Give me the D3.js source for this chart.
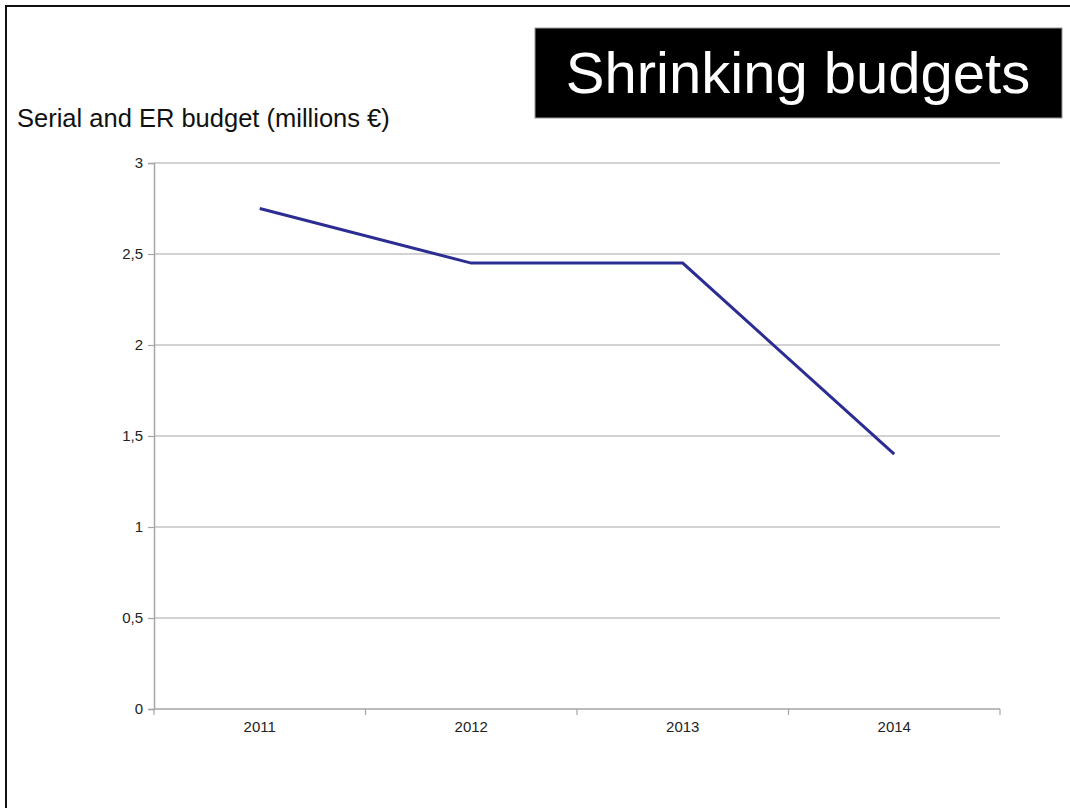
<!DOCTYPE html>
<html>
<head>
<meta charset="utf-8">
<script src="https://cdn.jsdelivr.net/npm/d3@7"></script>
<style>
  html, body { margin: 0; padding: 0; background: #fff; }
  svg { display: block; font-family: "Liberation Sans", Arial, sans-serif; }
</style>
</head>
<body>
<svg id="chart" width="1070" height="808"></svg>
<script>
const years = ["2011", "2012", "2013", "2014"];
const budget = [2.75, 2.45, 2.45, 1.40];
const yTicks = [0, 0.5, 1, 1.5, 2, 2.5, 3];
const titleText = "Shrinking budgets";
const subtitleText = "Serial and ER budget (millions €)";

const svg = d3.select("#chart");
const W = 1070, H = 808;
const margin = { left: 154, right: 70, top: 163, bottom: 99 };
const innerW = W - margin.left - margin.right;
const innerH = H - margin.top - margin.bottom;

// slide frame (top and left edge)
svg.append("line").attr("x1", 5).attr("x2", W).attr("y1", 6).attr("y2", 6)
  .attr("stroke", "#111").attr("stroke-width", 2);
svg.append("line").attr("x1", 6).attr("x2", 6).attr("y1", 5).attr("y2", H)
  .attr("stroke", "#111").attr("stroke-width", 2);

// title box
svg.append("rect").attr("x", 535).attr("y", 28).attr("width", 527).attr("height", 90)
  .attr("fill", "#000").attr("stroke", "#999").attr("stroke-width", 1);
svg.append("text").attr("x", 798).attr("y", 93).attr("text-anchor", "middle")
  .attr("fill", "#fff").attr("font-size", 58).text(titleText);

// subtitle
svg.append("text").attr("x", 17).attr("y", 127).attr("fill", "#111")
  .attr("font-size", 25.5).text(subtitleText);

const g = svg.append("g").attr("transform", `translate(${margin.left},${margin.top})`);

const x = d3.scaleBand().domain(years).range([0, innerW]).paddingInner(0).paddingOuter(0);
const y = d3.scaleLinear().domain([0, 3]).range([innerH, 0]);

// gridlines
g.append("g").selectAll("line").data(yTicks.filter(d => d > 0)).join("line")
  .attr("x1", 0).attr("x2", innerW)
  .attr("y1", d => y(d)).attr("y2", d => y(d))
  .attr("stroke", "#a6a6a6").attr("stroke-width", 1.2);

// y axis
const yAxis = g.append("g")
  .call(d3.axisLeft(y).tickValues(yTicks).tickSize(6).tickPadding(5)
    .tickFormat(d => d3.format("~g")(d).replace(".", ",")));
yAxis.attr("font-size", 15).attr("font-family", "Liberation Sans, Arial, sans-serif");
yAxis.select(".domain").attr("stroke", "#a6a6a6").attr("stroke-width", 1.5);
yAxis.selectAll(".tick line").attr("stroke", "#a6a6a6").attr("stroke-width", 1.2);
yAxis.selectAll(".tick text").attr("fill", "#222");

// x axis with tick marks at category boundaries
const xAxisG = g.append("g").attr("transform", `translate(0,${innerH})`);
xAxisG.append("line").attr("x1", 0).attr("x2", innerW).attr("y1", 0).attr("y2", 0)
  .attr("stroke", "#a6a6a6").attr("stroke-width", 1.5);
const bounds = years.map(d => x(d)).concat([innerW]);
xAxisG.selectAll("line.tk").data(bounds).join("line").attr("class", "tk")
  .attr("x1", d => d).attr("x2", d => d).attr("y1", 0).attr("y2", 6)
  .attr("stroke", "#a6a6a6").attr("stroke-width", 1.2);
xAxisG.selectAll("text").data(years).join("text")
  .attr("x", d => x(d) + x.bandwidth() / 2).attr("y", 23)
  .attr("text-anchor", "middle").attr("font-size", 15).attr("fill", "#222")
  .text(d => d);

// line
const line = d3.line()
  .x((d, i) => x(years[i]) + x.bandwidth() / 2)
  .y(d => y(d));
g.append("path").datum(budget).attr("d", line)
  .attr("fill", "none").attr("stroke", "#2b2d92").attr("stroke-width", 3)
  .attr("stroke-linejoin", "miter");
</script>
</body>
</html>
